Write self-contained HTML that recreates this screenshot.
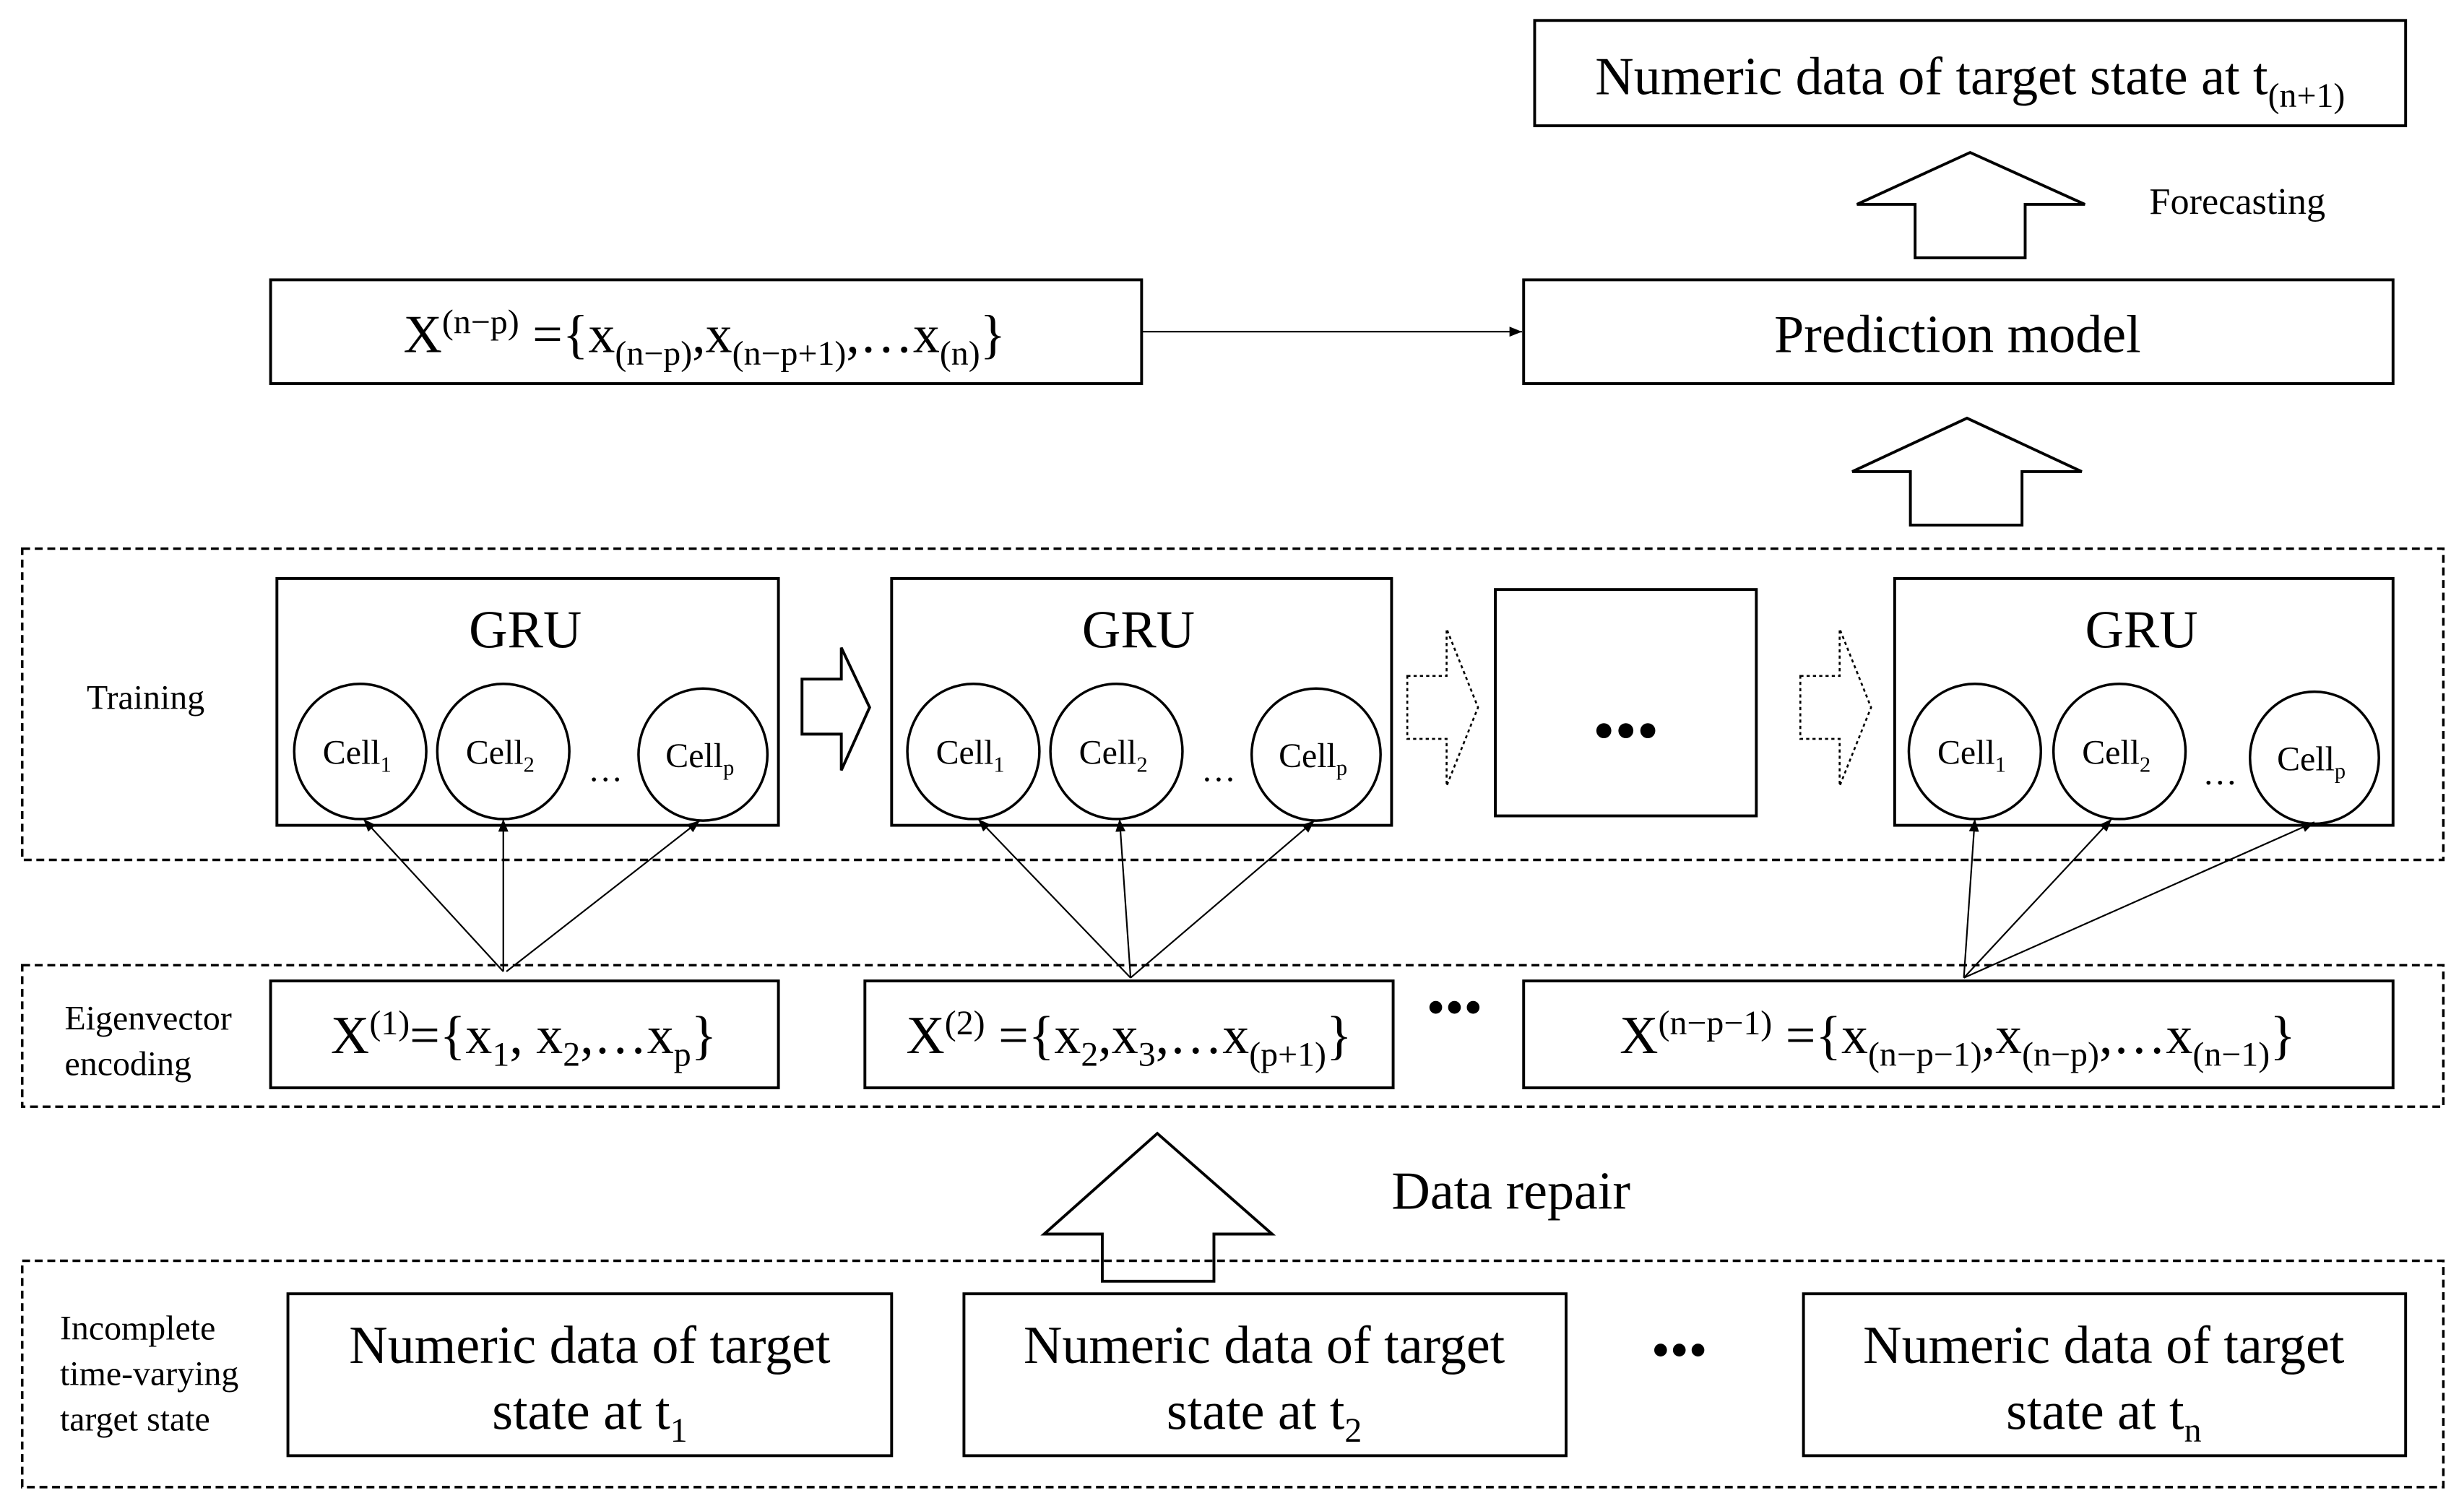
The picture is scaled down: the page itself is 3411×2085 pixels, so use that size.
<!DOCTYPE html>
<html><head><meta charset="utf-8"><style>
html,body{margin:0;padding:0;background:#fff;}
svg{display:block;}
text{font-family:"Liberation Serif",serif;fill:#000;}
</style></head><body>
<svg width="3411" height="2085" viewBox="0 0 1567 958" xmlns="http://www.w3.org/2000/svg">
<defs>
<marker id="ah" viewBox="0 0 10 10" refX="10" refY="5" markerWidth="8" markerHeight="8" markerUnits="userSpaceOnUse" orient="auto"><path d="M0,1 L10,5 L0,9 z" fill="#000"/></marker>
</defs>
<g fill="none" stroke="#000">
<!-- dashed groups -->
<rect x="14" y="349" width="1540" height="198" stroke-width="1.6" stroke-dasharray="5,3"/>
<rect x="14" y="614" width="1540" height="90" stroke-width="1.6" stroke-dasharray="5,3"/>
<rect x="14" y="802" width="1540" height="144" stroke-width="1.6" stroke-dasharray="5,3"/>
<!-- boxes -->
<g stroke-width="1.8">
<rect x="976" y="13" width="554" height="67"/>
<rect x="172" y="178" width="554" height="66"/>
<rect x="969" y="178" width="553" height="66"/>
<rect x="176" y="368" width="319" height="157"/>
<rect x="567" y="368" width="318" height="157"/>
<rect x="951" y="375" width="166" height="144"/>
<rect x="1205" y="368" width="317" height="157"/>
<rect x="172" y="624" width="323" height="68"/>
<rect x="550" y="624" width="336" height="68"/>
<rect x="969" y="624" width="553" height="68"/>
<rect x="183" y="823" width="384" height="103"/>
<rect x="613" y="823" width="383" height="103"/>
<rect x="1147" y="823" width="383" height="103"/>
</g>
<!-- circles -->
<g stroke-width="1.6">
<ellipse cx="229" cy="478" rx="42" ry="43"/>
<ellipse cx="320" cy="478" rx="42" ry="43"/>
<ellipse cx="447" cy="480" rx="41" ry="42"/>
<ellipse cx="619" cy="478" rx="42" ry="43"/>
<ellipse cx="710" cy="478" rx="42" ry="43"/>
<ellipse cx="837" cy="480" rx="41" ry="42"/>
<ellipse cx="1256" cy="478" rx="42" ry="43"/>
<ellipse cx="1348" cy="478" rx="42" ry="43"/>
<ellipse cx="1472" cy="482" rx="41" ry="42"/>
</g>
<!-- hollow up arrows -->
<g stroke-width="1.8">
<path d="M1253,97 L1326,130 L1288,130 L1288,164 L1218,164 L1218,130 L1181,130 Z"/>
<path d="M1251,266 L1324,300 L1286,300 L1286,334 L1215,334 L1215,300 L1178,300 Z"/>
<path d="M736,721 L809,785 L772,785 L772,815 L701,815 L701,785 L664,785 Z"/>
<!-- right arrow -->
<path d="M510,432 L535,432 L535,412 L553,450 L535,490 L535,467 L510,467 Z"/>
</g>
<g stroke-width="1.2" stroke-dasharray="2,2">
<path d="M895,430 L920,430 L920,400 L940,450 L920,500 L920,470 L895,470 Z"/>
<path d="M1145,430 L1170,430 L1170,400 L1190,450 L1170,500 L1170,470 L1145,470 Z"/>
</g>
<!-- connectors -->
<g stroke-width="1" marker-end="url(#ah)">
<line x1="726" y1="211" x2="968" y2="211"/>
<line x1="320" y1="618" x2="231" y2="521"/>
<line x1="320" y1="618" x2="320" y2="521"/>
<line x1="322" y1="618" x2="445" y2="522"/>
<line x1="719" y1="622" x2="622" y2="521"/>
<line x1="719" y1="622" x2="712" y2="521"/>
<line x1="719" y1="622" x2="836" y2="522"/>
<line x1="1249" y1="622" x2="1256" y2="521"/>
<line x1="1249" y1="622" x2="1343" y2="521"/>
<line x1="1249" y1="622" x2="1472" y2="523"/>
</g>
</g>
<!-- texts -->
<text x="1253" y="60" font-size="34" text-anchor="middle">Numeric data of target state at t<tspan font-size="22" dy="8">(n+1)</tspan></text>
<text x="1367" y="136" font-size="24">Forecasting</text>
<text x="448" y="224" font-size="34" text-anchor="middle">X<tspan font-size="22" dy="-12">(n−p)</tspan><tspan dy="12"> ={x</tspan><tspan font-size="22" dy="8">(n−p)</tspan><tspan dy="-8">,x</tspan><tspan font-size="22" dy="8">(n−p+1)</tspan><tspan dy="-8">,…x</tspan><tspan font-size="22" dy="8">(n)</tspan><tspan dy="-8">}</tspan></text>
<text x="1245" y="224" font-size="34" text-anchor="middle">Prediction model</text>
<text x="55" y="451" font-size="22">Training</text>
<g font-size="34" text-anchor="middle">
<text x="334" y="412">GRU</text>
<text x="724" y="412">GRU</text>
<text x="1362" y="412">GRU</text>
</g>
<g font-size="22" text-anchor="middle">
<text x="227" y="486">Cell<tspan font-size="14" dy="5">1</tspan></text>
<text x="318" y="486">Cell<tspan font-size="14" dy="5">2</tspan></text>
<text x="445" y="488">Cell<tspan font-size="14" dy="5">p</tspan></text>
<text x="617" y="486">Cell<tspan font-size="14" dy="5">1</tspan></text>
<text x="708" y="486">Cell<tspan font-size="14" dy="5">2</tspan></text>
<text x="835" y="488">Cell<tspan font-size="14" dy="5">p</tspan></text>
<text x="1254" y="486">Cell<tspan font-size="14" dy="5">1</tspan></text>
<text x="1346" y="486">Cell<tspan font-size="14" dy="5">2</tspan></text>
<text x="1470" y="490">Cell<tspan font-size="14" dy="5">p</tspan></text>
<text x="385" y="497">…</text>
<text x="775" y="497">…</text>
<text x="1412" y="499">…</text>
</g>
<text x="1034" y="478" font-size="40" text-anchor="middle">•••</text>
<text x="41" y="655" font-size="22">Eigenvector</text>
<text x="41" y="684" font-size="22">encoding</text>
<text x="333" y="670" font-size="34" text-anchor="middle">X<tspan font-size="22" dy="-12">(1)</tspan><tspan dy="12">={x</tspan><tspan font-size="22" dy="8">1</tspan><tspan dy="-8">, x</tspan><tspan font-size="22" dy="8">2</tspan><tspan dy="-8">,…x</tspan><tspan font-size="22" dy="8">p</tspan><tspan dy="-8">}</tspan></text>
<text x="718" y="670" font-size="34" text-anchor="middle">X<tspan font-size="22" dy="-12">(2)</tspan><tspan dy="12"> ={x</tspan><tspan font-size="22" dy="8">2</tspan><tspan dy="-8">,x</tspan><tspan font-size="22" dy="8">3</tspan><tspan dy="-8">,…x</tspan><tspan font-size="22" dy="8">(p+1)</tspan><tspan dy="-8">}</tspan></text>
<text x="925" y="652" font-size="34" text-anchor="middle">•••</text>
<text x="1245" y="670" font-size="34" text-anchor="middle">X<tspan font-size="22" dy="-12">(n−p−1)</tspan><tspan dy="12"> ={x</tspan><tspan font-size="22" dy="8">(n−p−1)</tspan><tspan dy="-8">,x</tspan><tspan font-size="22" dy="8">(n−p)</tspan><tspan dy="-8">,…x</tspan><tspan font-size="22" dy="8">(n−1)</tspan><tspan dy="-8">}</tspan></text>
<text x="885" y="769" font-size="34">Data repair</text>
<text x="38" y="852" font-size="22">Incomplete</text>
<text x="38" y="881" font-size="22">time-varying</text>
<text x="38" y="910" font-size="22">target state</text>
<g font-size="34" text-anchor="middle">
<text x="375" y="867">Numeric data of target</text>
<text x="375" y="909">state at t<tspan font-size="22" dy="8">1</tspan></text>
<text x="804" y="867">Numeric data of target</text>
<text x="804" y="909">state at t<tspan font-size="22" dy="8">2</tspan></text>
<text x="1338" y="867">Numeric data of target</text>
<text x="1338" y="909">state at t<tspan font-size="22" dy="8">n</tspan></text>
<text x="1068" y="870">•••</text>
</g>
</svg>
</body></html>
